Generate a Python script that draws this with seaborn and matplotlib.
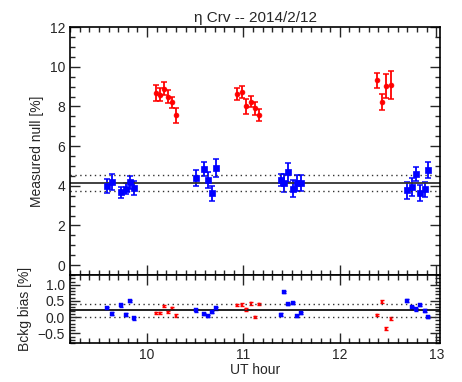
import numpy as np
import pandas as pd
import matplotlib
matplotlib.use("Agg")
import matplotlib.pyplot as plt
import seaborn as sns
from matplotlib.ticker import MultipleLocator

# UT hour of each frame, grouped by type (on-source null = blue, background check = red)
blue_ut = [9.58, 9.64, 9.73, 9.78, 9.82, 9.86,
           10.51, 10.59, 10.63, 10.67, 10.72,
           11.39, 11.42, 11.46, 11.51, 11.56, 11.60,
           12.70, 12.75, 12.79, 12.83, 12.88, 12.92]
blue_null = [3.98, 4.19, 3.68, 3.85, 4.17, 3.90,
             4.39, 4.84, 4.29, 3.62, 4.89,
             4.29, 4.12, 4.69, 3.85, 4.14, 4.14,
             3.77, 3.93, 4.59, 3.63, 3.83, 4.79]
blue_null_err = [0.34, 0.40, 0.28, 0.28, 0.34, 0.34,
                 0.39, 0.34, 0.40, 0.38, 0.45,
                 0.29, 0.45, 0.48, 0.44, 0.40, 0.40,
                 0.44, 0.44, 0.35, 0.42, 0.38, 0.42]
blue_bias = [0.28, 0.11, 0.36, 0.08, 0.50, -0.04,
             0.21, 0.10, 0.04, 0.16, 0.27,
             0.08, 0.78, 0.40, 0.44, 0.03, 0.13,
             0.51, 0.30, 0.24, 0.38, 0.20, 0.01]

red_ut = [10.09, 10.13, 10.18, 10.22, 10.26, 10.30,
          10.93, 10.99, 11.03, 11.08, 11.12, 11.16,
          12.39, 12.44, 12.48, 12.53]
red_null = [8.70, 8.60, 8.90, 8.50, 8.20, 7.55,
            8.64, 8.74, 8.00, 8.24, 7.90, 7.56,
            9.33, 8.24, 9.03, 9.08]
red_null_err = [0.40, 0.35, 0.34, 0.34, 0.30, 0.36,
                0.29, 0.29, 0.40, 0.29, 0.34, 0.29,
                0.38, 0.40, 0.59, 0.71]
red_bias = [0.13, 0.13, 0.34, 0.16, 0.28, 0.05,
            0.38, 0.39, 0.24, 0.43, 0.00, 0.41,
            0.06, 0.48, -0.36, -0.05]

bias_err = 0.04

# mean level and +/- band drawn as horizontal lines
null_mean, null_band = 4.14, 0.40
bias_mean, bias_band = 0.21, 0.21

sns.set_style("ticks")
plt.rcParams['font.family'] = ['Liberation Sans', 'DejaVu Sans']
plt.rcParams['font.size'] = 10

blue_df = pd.DataFrame({'ut': blue_ut, 'null': blue_null, 'err': blue_null_err, 'bias': blue_bias})
red_df = pd.DataFrame({'ut': red_ut, 'null': red_null, 'err': red_null_err, 'bias': red_bias})

fig = plt.figure(figsize=(4.62, 3.82), dpi=100)
ax1 = fig.add_axes([0.1515, 0.280, 0.801, 0.649])
ax2 = fig.add_axes([0.1515, 0.102, 0.801, 0.178], sharex=ax1)

BLUE = '#0000ff'
RED = '#ff0000'

# top panel: measured null
for df, col, mk, ms in [(blue_df, BLUE, 's', 22), (red_df, RED, 'o', 12)]:
    ax1.errorbar(df['ut'], df['null'], yerr=df['err'], fmt='none',
                 ecolor=col, elinewidth=1.3, capsize=2, capthick=1.1)
    sns.scatterplot(data=df, x='ut', y='null', ax=ax1, color=col, marker=mk,
                    s=ms, edgecolor=col, linewidth=0.5, legend=False, zorder=3)

ax1.axhline(null_mean, color='#333333', lw=1.3)
ax1.axhline(null_mean + null_band, color='#333333', lw=1.0, ls=(0, (1, 2.5)))
ax1.axhline(null_mean - null_band, color='#333333', lw=1.0, ls=(0, (1, 2.5)))

ax1.set_xlim(9.2, 13.04)
ax1.set_ylim(-0.5, 12)
ax1.yaxis.set_major_locator(MultipleLocator(2))
ax1.yaxis.set_minor_locator(MultipleLocator(0.5))
ax1.set_ylabel('Measured null [%]')
ax1.set_xlabel('')
ax1.set_title('η Crv -- 2014/2/12', fontsize=11, pad=4)
plt.setp(ax1.get_xticklabels(), visible=False)

# bottom panel: background bias
for df, col in [(blue_df, BLUE), (red_df, RED)]:
    ax2.errorbar(df['ut'], df['bias'], yerr=bias_err, fmt='none',
                 ecolor=col, elinewidth=1.5, capsize=1.5, capthick=1.0)
    sns.scatterplot(data=df, x='ut', y='bias', ax=ax2, color=col, marker='s',
                    s=5 if col == BLUE else 2, edgecolor=col, linewidth=0.3,
                    legend=False, zorder=3)

ax2.axhline(bias_mean, color='#111111', lw=1.3)
ax2.axhline(bias_mean + bias_band, color='#333333', lw=1.0, ls=(0, (1, 2.5)))
ax2.axhline(bias_mean - bias_band, color='#333333', lw=1.0, ls=(0, (1, 2.5)))

ax2.set_ylim(-0.8, 1.3)
ax2.yaxis.set_major_locator(MultipleLocator(0.5))
ax2.yaxis.set_minor_locator(MultipleLocator(0.1))
ax2.xaxis.set_major_locator(MultipleLocator(1))
ax2.xaxis.set_minor_locator(MultipleLocator(0.1))
ax2.set_xticks([10, 11, 12, 13])
ax2.set_ylabel('Bckg bias [%]')
ax2.set_xlabel('UT hour', labelpad=1)

for ax in (ax1, ax2):
    for s in ax.spines.values():
        s.set_linewidth(1.2)
        s.set_color('black')
    ax.tick_params(which='both', direction='in', top=True, right=True, width=1.0)
    ax.tick_params(which='major', length=7)
    ax.tick_params(which='minor', length=3.5)

fig.savefig('out.png', dpi=100)
